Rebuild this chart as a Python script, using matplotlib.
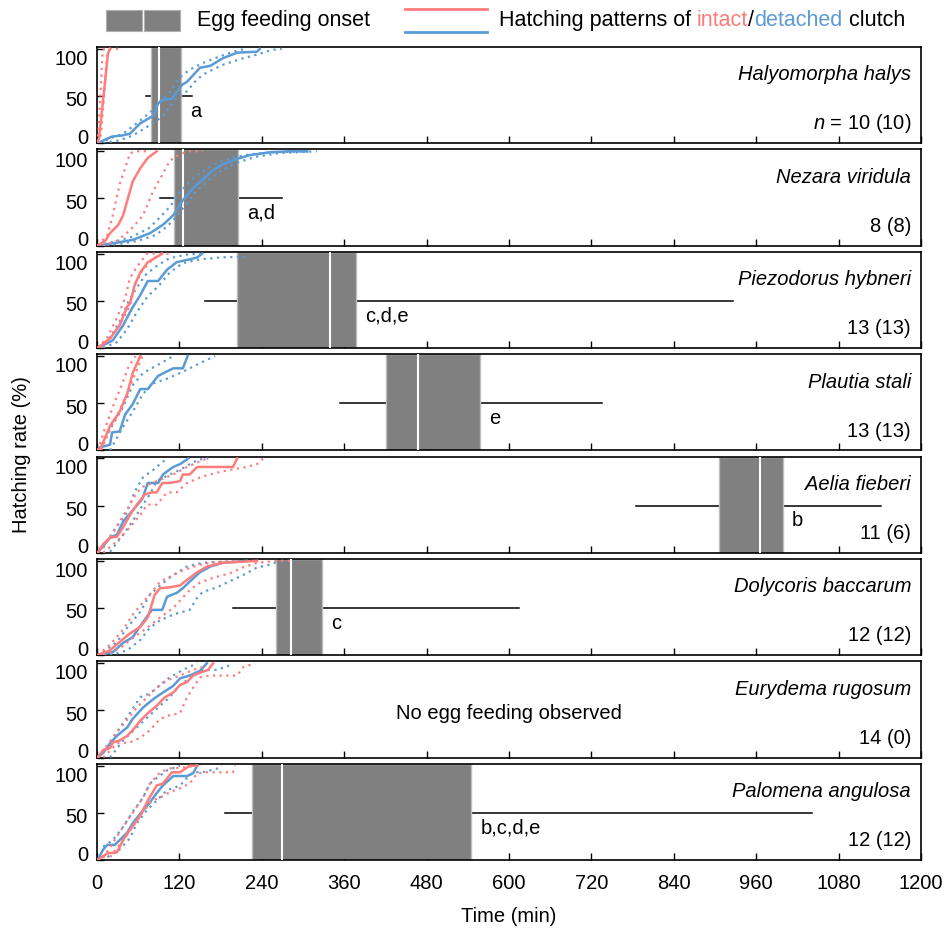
import matplotlib.pyplot as plt
from matplotlib.patches import Rectangle

plt.rcParams['font.family'] = ['Liberation Sans', 'DejaVu Sans']
plt.rcParams['font.size'] = 14.5
plt.rcParams['mathtext.fontset'] = 'custom'
plt.rcParams['mathtext.it'] = 'Liberation Sans:italic'
plt.rcParams['mathtext.rm'] = 'Liberation Sans'

RED = '#FF7C7C'
BLUE = '#5B9BD5'
GREY = '#808080'

# species, sample sizes and egg-feeding onset summaries (min)
species = ['Halyomorpha halys', 'Nezara viridula', 'Piezodorus hybneri', 'Plautia stali',
           'Aelia fieberi', 'Dolycoris baccarum', 'Eurydema rugosum', 'Palomena angulosa']
n_labels = ['$n$ = 10 (10)', '8 (8)', '13 (13)', '13 (13)', '11 (6)', '12 (12)', '14 (0)', '12 (12)']
onset_q1 = [78, 112, 204, 421, 906, 261, None, 226]
onset_q3 = [122, 205, 377, 558, 999, 328, None, 545]
onset_med = [90, 125, 339, 467, 965, 283, None, 269]
onset_min = [71, 92, 157, 354, 785, 198, None, 186]
onset_max = [138, 269, 926, 735, 1142, 615, None, 1041]
letters = ['a', 'a,d', 'c,d,e', 'e', 'b', 'c', '', 'b,c,d,e']

y_ticks = [0, 50, 100]
y_ticklabels = ['0', '50', '100']
x_ticks = [0, 120, 240, 360, 480, 600, 720, 840, 960, 1080, 1200]

# hatching curves (time in min, cumulative %), solid = mean, dotted = bounds
halys_int = [(0, 0), (3, 5), (16, 95), (19, 100)]
halys_int_a = [(0, 0), (2, 10), (8, 95), (10, 100), (33, 100)]
halys_int_b = [(2, 0), (6, 10), (15, 95), (19, 100)]
halys_det = [(1, 0), (22, 7), (36, 8), (48, 10), (63, 21), (82, 29), (89, 42), (96, 46), (109, 47),
             (116, 54), (124, 62), (131, 65), (150, 80), (165, 82), (183, 90), (204, 96), (233, 97), (237, 100)]
halys_det_a = [(4, 0), (19, 5), (38, 10), (63, 24), (80, 34), (95, 47), (106, 54), (121, 70), (135, 78),
               (154, 85), (175, 91), (198, 97), (216, 100)]
halys_det_b = [(9, 0), (33, 3), (52, 8), (77, 19), (95, 28), (106, 39), (118, 50), (131, 55), (146, 68),
               (160, 75), (183, 83), (208, 89), (233, 94), (255, 99), (269, 100)]

nezara_int = [(1, 0), (12, 5), (19, 13), (31, 22), (38, 32), (45, 50), (52, 68), (63, 82), (74, 93), (87, 100)]
nezara_int_a = [(1, 0), (15, 11), (23, 32), (33, 65), (41, 82), (48, 98), (58, 100), (77, 100)]
nezara_int_b = [(9, 0), (29, 5), (48, 16), (67, 32), (82, 58), (95, 75), (106, 90), (121, 97), (135, 100), (154, 100)]
nezara_det = [(1, 0), (29, 3), (52, 6), (77, 13), (96, 22), (111, 32), (125, 48), (140, 61), (154, 70),
              (169, 80), (183, 86), (204, 92), (223, 96), (252, 99), (281, 100), (306, 100)]
nezara_det_a = [(1, 0), (25, 4), (50, 9), (75, 18), (92, 30), (107, 42), (120, 56), (135, 68), (150, 77),
                (170, 86), (195, 93), (225, 97), (260, 99), (310, 100)]
nezara_det_b = [(5, 0), (35, 2), (60, 5), (85, 11), (102, 20), (115, 30), (130, 44), (145, 58), (160, 68),
                (180, 79), (200, 87), (230, 94), (265, 98), (320, 100)]

piezo_int = [(1, 0), (19, 10), (33, 24), (44, 44), (48, 47), (55, 67), (63, 80), (74, 91), (95, 100)]
piezo_int_a = [(1, 0), (15, 11), (29, 32), (41, 53), (48, 74), (58, 86), (73, 100), (87, 100)]
piezo_int_b = [(6, 0), (19, 10), (33, 24), (48, 45), (55, 67), (65, 81), (77, 91), (91, 100), (106, 100)]
piezo_det = [(1, 0), (23, 8), (38, 24), (51, 42), (63, 56), (74, 71), (89, 71), (102, 83), (116, 91),
             (135, 94), (146, 96), (153, 100)]
piezo_det_a = [(3, 0), (20, 12), (33, 28), (45, 48), (57, 63), (70, 77), (85, 86), (105, 95), (130, 99), (150, 100)]
piezo_det_b = [(9, 0), (29, 6), (44, 20), (58, 38), (73, 54), (90, 66), (106, 80), (125, 90), (150, 94),
               (180, 96), (216, 97)]

plautia_int = [(4, 0), (19, 26), (33, 41), (44, 60), (52, 82), (63, 100)]
plautia_int_a = [(1, 0), (12, 24), (25, 50), (37, 71), (46, 89), (56, 100)]
plautia_int_b = [(6, 0), (20, 24), (34, 44), (46, 64), (56, 82), (66, 100)]
plautia_det = [(4, 3), (19, 6), (22, 19), (33, 20), (41, 38), (52, 49), (63, 65), (74, 65), (89, 79),
               (111, 87), (125, 87), (132, 100)]
plautia_det_a = [(7, 6), (22, 26), (38, 46), (52, 69), (67, 82), (87, 90), (111, 100)]
plautia_det_b = [(19, 0), (38, 25), (52, 41), (67, 60), (82, 71), (102, 76), (121, 82), (135, 87),
                 (157, 95), (172, 100)]

aelia_int = [(1, 0), (9, 9), (19, 16), (29, 17), (38, 27), (48, 40), (58, 51), (70, 62), (80, 64), (87, 64),
             (95, 74), (106, 74), (121, 76), (125, 83), (135, 83), (146, 91), (183, 91), (198, 91), (204, 100)]
aelia_int_a = [(1, 0), (19, 16), (33, 33), (48, 51), (58, 64), (67, 70), (87, 76), (111, 83), (131, 91),
               (150, 97), (160, 100)]
aelia_int_b = [(9, 0), (29, 12), (48, 27), (63, 40), (73, 51), (87, 51), (102, 64), (116, 64), (131, 74),
               (154, 81), (175, 85), (194, 88), (218, 91), (233, 94), (242, 100)]
aelia_det = [(1, 0), (19, 16), (29, 19), (38, 33), (52, 45), (66, 57), (74, 74), (89, 74), (96, 83),
             (111, 91), (121, 94), (133, 100)]
aelia_det_a = [(9, 5), (23, 22), (44, 43), (55, 65), (67, 80), (82, 88), (95, 96), (102, 100)]
aelia_det_b = [(19, 1), (38, 19), (55, 37), (67, 51), (77, 62), (87, 76), (106, 83), (121, 88), (140, 96),
               (150, 99), (162, 100)]

dolyc_int = [(1, 0), (19, 5), (33, 14), (48, 23), (63, 30), (74, 40), (84, 64), (92, 71), (106, 72),
             (121, 74), (135, 82), (146, 88), (160, 94), (183, 98), (208, 99), (233, 100)]
dolyc_int_a = [(1, 0), (19, 11), (38, 27), (52, 43), (67, 56), (80, 67), (92, 78), (106, 83), (125, 90),
               (150, 96), (175, 99), (208, 100)]
dolyc_int_b = [(9, 0), (33, 7), (52, 18), (73, 29), (92, 40), (111, 50), (135, 69), (150, 77), (169, 82),
               (194, 87), (212, 93), (233, 98), (262, 100), (281, 100)]
dolyc_det = [(1, 0), (23, 3), (38, 13), (52, 19), (67, 35), (80, 48), (95, 48), (102, 62), (116, 66),
             (125, 71), (135, 78), (150, 88), (165, 94), (183, 98), (218, 100)]
dolyc_det_a = [(9, 3), (29, 14), (45, 30), (63, 46), (77, 64), (92, 74), (111, 85), (131, 94), (154, 98),
               (183, 99), (218, 100)]
dolyc_det_b = [(19, 0), (44, 5), (63, 16), (77, 29), (92, 37), (111, 43), (135, 48), (146, 61), (154, 67),
               (175, 72), (198, 80), (213, 85), (233, 93), (252, 96), (266, 100)]

eury_int = [(1, 0), (9, 8), (19, 10), (23, 16), (33, 18), (44, 23), (52, 29), (63, 39), (74, 47), (87, 55),
            (99, 64), (111, 69), (121, 77), (131, 80), (140, 87), (150, 90), (162, 93), (169, 100)]
eury_int_a = [(1, 0), (15, 13), (29, 27), (44, 40), (58, 53), (73, 64), (87, 74), (102, 82), (121, 87),
              (140, 93), (154, 96), (158, 100)]
eury_int_b = [(9, 0), (29, 15), (48, 16), (63, 21), (77, 29), (92, 41), (106, 45), (121, 47), (131, 64),
              (140, 74), (150, 85), (165, 87), (204, 87), (213, 96), (230, 100)]
eury_det = [(1, 0), (9, 5), (19, 15), (29, 23), (44, 32), (52, 41), (67, 53), (82, 62), (96, 69), (111, 76),
            (121, 84), (135, 87), (150, 92), (160, 100)]
eury_det_a = [(9, 5), (29, 27), (44, 43), (63, 64), (77, 68), (92, 77), (106, 85), (125, 93), (146, 100)]
eury_det_b = [(19, 0), (38, 18), (58, 32), (77, 45), (92, 55), (106, 64), (121, 77), (135, 84), (154, 93),
              (175, 93), (194, 98)]

palo_int = [(1, 0), (15, 7), (29, 8), (38, 21), (51, 35), (63, 47), (74, 63), (87, 79), (96, 81), (109, 93),
            (121, 93), (135, 100), (146, 100)]
palo_int_a = [(9, 2), (23, 18), (38, 35), (52, 50), (67, 66), (77, 81), (92, 93), (106, 97), (125, 98), (146, 100)]
palo_int_b = [(19, 3), (38, 21), (52, 35), (67, 51), (80, 63), (92, 66), (106, 72), (121, 76), (135, 81),
              (146, 92), (160, 93), (198, 93), (201, 100)]
palo_det = [(1, 0), (9, 11), (15, 16), (26, 16), (33, 21), (44, 29), (52, 39), (63, 49), (77, 61), (87, 71),
            (96, 79), (111, 89), (131, 89), (140, 92), (146, 100)]
palo_det_a = [(9, 14), (23, 21), (38, 35), (52, 51), (67, 66), (77, 81), (87, 87), (102, 95), (121, 100)]
palo_det_b = [(15, 3), (33, 11), (48, 23), (58, 39), (73, 53), (87, 63), (102, 74), (121, 79), (131, 87),
              (140, 93), (154, 93), (175, 97), (182, 100)]

curves = [
    (halys_int, halys_int_a, halys_int_b, halys_det, halys_det_a, halys_det_b),
    (nezara_int, nezara_int_a, nezara_int_b, nezara_det, nezara_det_a, nezara_det_b),
    (piezo_int, piezo_int_a, piezo_int_b, piezo_det, piezo_det_a, piezo_det_b),
    (plautia_int, plautia_int_a, plautia_int_b, plautia_det, plautia_det_a, plautia_det_b),
    (aelia_int, aelia_int_a, aelia_int_b, aelia_det, aelia_det_a, aelia_det_b),
    (dolyc_int, dolyc_int_a, dolyc_int_b, dolyc_det, dolyc_det_a, dolyc_det_b),
    (eury_int, eury_int_a, eury_int_b, eury_det, eury_det_a, eury_det_b),
    (palo_int, palo_int_a, palo_int_b, palo_det, palo_det_a, palo_det_b),
]

W, H = 951, 931
fig = plt.figure(figsize=(W / 100, H / 100), dpi=100)

left_px, right_px = 97, 921
top_px, panel_h, gap = 47, 96.1, 6.3
dotted = (0, (1, 2))
# the original y tick labels sit a little inside the panel (points)
label_shift = {0: 3.5, 50: -3.5, 100: -7.5}


def xy(pts):
    return [p[0] for p in pts], [p[1] for p in pts]


axes = []
for i, sp in enumerate(species):
    y0 = top_px + i * (panel_h + gap)
    ax = fig.add_axes([left_px / W, 1 - (y0 + panel_h) / H, (right_px - left_px) / W, panel_h / H])
    axes.append(ax)

    # egg feeding onset: range line, IQR box, median
    if onset_q1[i] is not None:
        ax.plot([onset_min[i], onset_max[i]], [50, 50], color='black', lw=1.1, zorder=1)
        ax.axvspan(onset_q1[i], onset_q3[i], facecolor=GREY, edgecolor='#bdbdbd', lw=1, zorder=2)
        ax.axvline(onset_med[i], color='white', lw=1.5, zorder=3)
        ax.annotate(letters[i], (onset_q3[i], 50), xytext=(6.5, -4), textcoords='offset points',
                    ha='left', va='top')
    else:
        ax.text(600, 47, 'No egg feeding observed', ha='center', va='center')

    ia, ib, ic, da, db, dc = curves[i]
    for pts, col, ls in [(db, BLUE, dotted), (dc, BLUE, dotted), (da, BLUE, '-'),
                         (ib, RED, dotted), (ic, RED, dotted), (ia, RED, '-')]:
        x, y = xy(pts)
        ax.plot(x, y, color=col, ls=ls, lw=1.8 if ls == '-' else 1.6, zorder=4)

    ax.text(0.988, 0.71, sp, transform=ax.transAxes, ha='right', va='center', style='italic')
    ax.text(0.988, 0.2, n_labels[i], transform=ax.transAxes, ha='right', va='center')

    ax.set_xlim(0, 1200)
    ax.set_ylim(0, 102)
    ax.set_yticks(y_ticks)
    ax.set_yticklabels([])
    for v, lab in zip(y_ticks, y_ticklabels):
        ax.annotate(lab, (0, v), xycoords=('axes fraction', 'data'), xytext=(-6.5, label_shift[v]),
                    textcoords='offset points', ha='right', va='center', annotation_clip=False)
    ax.set_xticks(x_ticks)
    ax.tick_params(direction='in', length=5, width=1)
    ax.tick_params(axis='x', pad=10)
    for s in ax.spines.values():
        s.set_linewidth(1.2)
    if i < len(species) - 1:
        ax.tick_params(labelbottom=False)

axes[-1].set_xlabel('Time (min)', labelpad=10)
fig.text(22 / W, 1 - 455 / H, 'Hatching rate (%)', rotation=90, ha='center', va='center')

# legend drawn in an overlay axes using pixel coordinates
lax = fig.add_axes([0, 0, 1, 1])
lax.set_xlim(0, W)
lax.set_ylim(H, 0)
lax.axis('off')
lax.add_patch(Rectangle((106, 10), 36, 21, facecolor=GREY, edgecolor='#b0b0b0', lw=0.8))
lax.add_patch(Rectangle((144, 10), 36, 21, facecolor=GREY, edgecolor='#b0b0b0', lw=0.8))
lax.text(197, 20.5, 'Egg feeding onset', va='center', ha='left', fontsize=15.5)
lax.plot([405, 487], [9, 9], color=RED, lw=2)
lax.plot([405, 487], [32, 32], color=BLUE, lw=2)
t = lax.text(499, 20.5, 'Hatching patterns of ', va='center', ha='left', fontsize=15.5)
for piece, col in [('intact', RED), ('/', 'black'), ('detached', BLUE), (' clutch', 'black')]:
    t = lax.annotate(piece, xy=(1, 0), xycoords=t, va='bottom', ha='left', color=col, fontsize=15.5)

fig.savefig('out.png', dpi=100)
